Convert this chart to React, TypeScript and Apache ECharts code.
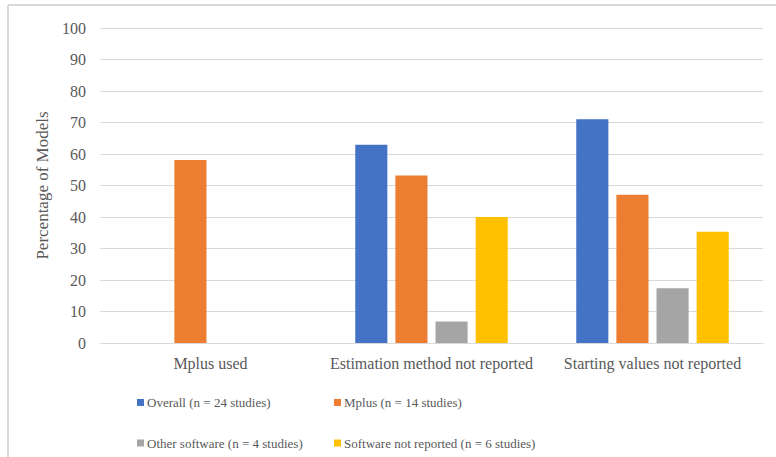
import React, { useEffect, useRef } from "react";
import * as echarts from "echarts";

const categories = [
  "Mplus used",
  "Estimation method not reported",
  "Starting values not reported",
];
const seriesNames = [
  "Overall (n = 24 studies)",
  "Mplus (n = 14 studies)",
  "Other software (n = 4 studies)",
  "Software not reported (n = 6 studies)",
];
const overall = [null, 62.9, 71.0];
const mplus = [58.1, 53.2, 47.1];
const otherSoftware = [null, 6.8, 17.4];
const notReported = [null, 40.0, 35.3];
const colors = ["#4472C4", "#ED7D31", "#A5A5A5", "#FFC000"];
const yTicks = { min: 0, max: 100, interval: 10 };

const FONT = "Liberation Serif";
const TEXT = "#595959";

export default function App() {
  const ref = useRef<HTMLDivElement>(null);

  useEffect(() => {
    if (!ref.current) return;
    const chart = echarts.init(ref.current, null, { renderer: "svg" });
    const values = [overall, mplus, otherSoftware, notReported];

    const legendText = {
      fontFamily: FONT,
      fontSize: 13,
      color: TEXT,
      padding: [0, 0, 0, -2],
    };
    const legendBase = {
      orient: "vertical" as const,
      top: 396,
      itemWidth: 7,
      itemHeight: 7,
      itemGap: 27.5,
      icon: "rect",
      textStyle: legendText,
      padding: 0,
    };

    chart.setOption({
      animation: false,
      backgroundColor: "#ffffff",
      textStyle: { fontFamily: FONT },
      grid: { left: 100, right: 13, top: 28, bottom: 114, containLabel: false },
      legend: [
        { ...legendBase, left: 137, data: [seriesNames[0], seriesNames[2]] },
        { ...legendBase, left: 334, data: [seriesNames[1], seriesNames[3]] },
      ],
      xAxis: {
        type: "category",
        data: categories,
        axisLine: { lineStyle: { color: "#D9D9D9", width: 1 } },
        axisTick: { show: false },
        axisLabel: {
          fontFamily: FONT,
          fontSize: 16,
          color: TEXT,
          margin: 12,
          interval: 0,
        },
      },
      yAxis: {
        type: "value",
        min: yTicks.min,
        max: yTicks.max,
        interval: yTicks.interval,
        name: "Percentage of Models",
        nameLocation: "middle",
        nameGap: 46,
        nameTextStyle: { fontFamily: FONT, fontSize: 17, color: TEXT },
        axisLine: { show: false },
        axisTick: { show: false },
        axisLabel: { fontFamily: FONT, fontSize: 16, color: TEXT, margin: 14 },
        splitLine: { lineStyle: { color: "#D9D9D9", width: 1 } },
      },
      series: seriesNames.map((name, i) => ({
        name,
        type: "bar",
        data: values[i],
        itemStyle: { color: colors[i] },
        barGap: "25%",
        barCategoryGap: "31%",
      })),
      graphic: [
        {
          type: "line",
          shape: { x1: 8, y1: 5, x2: 776, y2: 5 },
          style: { stroke: "#D9D9D9", lineWidth: 2 },
        },
        {
          type: "line",
          shape: { x1: 8, y1: 5, x2: 8, y2: 457 },
          style: { stroke: "#D9D9D9", lineWidth: 2 },
        },
      ],
    });

    return () => chart.dispose();
  }, []);

  return (
    <div
      ref={ref}
      style={{ position: "fixed", left: 0, top: 0, width: 776, height: 457 }}
    />
  );
}
